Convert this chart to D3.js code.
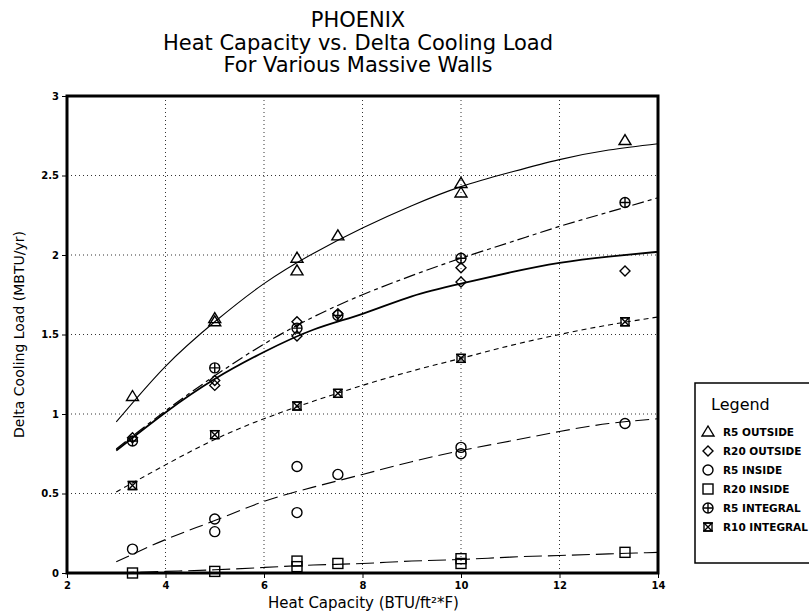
<!DOCTYPE html>
<html>
<head>
<meta charset="utf-8">
<script src="https://cdn.jsdelivr.net/npm/d3@7"></script>
<style>
  body { margin: 0; background: #fff; }
  text { font-family: "DejaVu Sans", sans-serif; fill: #000; }
  .tick text { font-size: 10px; font-weight: bold; }
  .legText { font-size: 10.5px; font-weight: bold; }
</style>
</head>
<body>
<div id="chart"></div>
<script>
// Chart values
var titleLines = ["PHOENIX", "Heat Capacity vs. Delta Cooling Load", "For Various Massive Walls"];
var xTicks = [2, 4, 6, 8, 10, 12, 14];
var yTicks = [0, 0.5, 1, 1.5, 2, 2.5, 3];
var seriesNames = ["R5 OUTSIDE", "R20 OUTSIDE", "R5 INSIDE", "R20 INSIDE", "R5 INTEGRAL", "R10 INTEGRAL"];

// measured points
var r5OutsideX = [3.33, 5, 5, 6.67, 6.67, 7.5, 10, 10, 13.33];
var r5OutsideY = [1.11, 1.60, 1.58, 1.98, 1.90, 2.12, 2.45, 2.39, 2.72];
var r20OutsideX = [3.33, 5, 5, 6.67, 6.67, 7.5, 10, 10, 13.33];
var r20OutsideY = [0.85, 1.21, 1.18, 1.58, 1.49, 1.63, 1.83, 1.92, 1.90];
var r5InsideX = [3.33, 5, 5, 6.67, 6.67, 7.5, 10, 10, 13.33];
var r5InsideY = [0.15, 0.34, 0.26, 0.67, 0.38, 0.62, 0.79, 0.75, 0.94];
var r20InsideX = [3.33, 5, 6.67, 6.67, 7.5, 10, 10, 13.33];
var r20InsideY = [0.0, 0.01, 0.075, 0.04, 0.06, 0.09, 0.06, 0.13];
var r5IntegralX = [3.33, 5, 6.67, 7.5, 10, 13.33];
var r5IntegralY = [0.83, 1.29, 1.54, 1.62, 1.98, 2.33];
var r10IntegralX = [3.33, 5, 6.67, 7.5, 10, 13.33];
var r10IntegralY = [0.55, 0.87, 1.05, 1.13, 1.35, 1.58];

// fitted curves
var fitX = [3, 4, 5, 6, 7, 8, 9, 10, 11, 12, 13, 14];
var fitR5Outside   = [0.95, 1.30, 1.58, 1.82, 2.01, 2.17, 2.31, 2.43, 2.52, 2.60, 2.66, 2.70];
var fitR20Outside  = [0.77, 1.01, 1.22, 1.39, 1.53, 1.63, 1.74, 1.82, 1.89, 1.95, 1.99, 2.02];
var fitR5Inside    = [0.07, 0.21, 0.33, 0.45, 0.54, 0.62, 0.70, 0.77, 0.83, 0.89, 0.94, 0.97];
var fitR20Inside   = [0.0, 0.01, 0.02, 0.035, 0.05, 0.06, 0.075, 0.085, 0.10, 0.11, 0.12, 0.13];
var fitR5Integral  = [0.78, 1.02, 1.24, 1.44, 1.61, 1.75, 1.87, 1.98, 2.08, 2.18, 2.27, 2.36];
var fitR10Integral = [0.51, 0.68, 0.84, 0.97, 1.08, 1.18, 1.27, 1.35, 1.43, 1.50, 1.56, 1.61];

var svgWidth = 809;
var svgHeight = 612;

var margin = { top: 96, right: 151, bottom: 39, left: 67 };
var width = svgWidth - margin.left - margin.right;
var height = svgHeight - margin.top - margin.bottom;

var svg = d3.select("#chart")
  .append("svg")
  .attr("width", svgWidth)
  .attr("height", svgHeight);

// title
svg.selectAll(".title")
  .data(titleLines)
  .enter()
  .append("text")
  .attr("class", "title")
  .attr("x", 358)
  .attr("y", (d, i) => 27 + i * 22.5)
  .attr("text-anchor", "middle")
  .style("font-size", "21px")
  .text(d => d);

var chartGroup = svg.append("g")
  .attr("transform", `translate(${margin.left}, ${margin.top})`);

var x = d3.scaleLinear().domain([2, 14]).range([0, width]);
var y = d3.scaleLinear().domain([0, 3]).range([height, 0]);

// dotted grid
chartGroup.append("g")
  .selectAll("line")
  .data(xTicks.slice(1, -1))
  .enter()
  .append("line")
  .attr("x1", d => x(d)).attr("x2", d => x(d))
  .attr("y1", 0).attr("y2", height)
  .attr("stroke", "#333").attr("stroke-width", 1).attr("stroke-dasharray", "1,3");

chartGroup.append("g")
  .selectAll("line")
  .data(yTicks.slice(1, -1))
  .enter()
  .append("line")
  .attr("x1", 0).attr("x2", width)
  .attr("y1", d => y(d)).attr("y2", d => y(d))
  .attr("stroke", "#333").attr("stroke-width", 1).attr("stroke-dasharray", "1,3");

// axes
var bottomAxis = d3.axisBottom(x).tickValues(xTicks).tickSize(5).tickPadding(4).tickFormat(d3.format("d"));
var leftAxis = d3.axisLeft(y).tickValues(yTicks).tickSize(5).tickPadding(3).tickFormat(d => String(d));

chartGroup.append("g")
  .attr("transform", `translate(0, ${height})`)
  .call(bottomAxis)
  .call(g => g.select(".domain").remove());

chartGroup.append("g")
  .call(leftAxis)
  .call(g => g.select(".domain").remove());

// frame
chartGroup.append("rect")
  .attr("x", 0).attr("y", 0)
  .attr("width", width).attr("height", height)
  .attr("fill", "none").attr("stroke", "#000").attr("stroke-width", 3);

// axis labels
chartGroup.append("text")
  .attr("transform", "rotate(-90)")
  .attr("x", -height / 2)
  .attr("y", -margin.left + 24)
  .attr("text-anchor", "middle")
  .style("font-size", "14px")
  .text("Delta Cooling Load (MBTU/yr)");

chartGroup.append("text")
  .attr("x", width / 2 + 1)
  .attr("y", height + 35)
  .attr("text-anchor", "middle")
  .style("font-size", "15px")
  .text("Heat Capacity (BTU/ft\u00B2*F)");

// markers
function marker(g, type) {
  var s = 5;
  if (type === "tri") {
    g.append("path").attr("d", `M0,${-s - 1}L${s + 1},${s - 1}L${-s - 1},${s - 1}Z`);
  } else if (type === "dia") {
    g.append("path").attr("d", `M0,${-s}L${s},0L0,${s}L${-s},0Z`);
  } else if (type === "circ") {
    g.append("circle").attr("r", s);
  } else if (type === "sq") {
    g.append("rect").attr("x", -s).attr("y", -s).attr("width", 2 * s).attr("height", 2 * s);
  } else if (type === "cross") {
    g.append("circle").attr("r", s);
    g.append("path").attr("d", `M${-s},0H${s}M0,${-s}V${s}`);
  } else if (type === "hour") {
    g.append("rect").attr("x", -s + 1).attr("y", -s + 1).attr("width", 2 * s - 2).attr("height", 2 * s - 2);
    g.append("path").attr("d", `M${-s + 1},${-s + 1}L${s - 1},${s - 1}M${s - 1},${-s + 1}L${-s + 1},${s - 1}M${-s},${-s + 1}H${s}M${-s},${s - 1}H${s}`);
  }
  g.selectAll("path,circle,rect").attr("fill", "none").attr("stroke", "#000").attr("stroke-width", 1.4);
}

var series = [
  { name: seriesNames[0], xs: r5OutsideX, ys: r5OutsideY, fit: fitR5Outside, sym: "tri", dash: null, w: 1.1 },
  { name: seriesNames[1], xs: r20OutsideX, ys: r20OutsideY, fit: fitR20Outside, sym: "dia", dash: null, w: 1.8 },
  { name: seriesNames[2], xs: r5InsideX, ys: r5InsideY, fit: fitR5Inside, sym: "circ", dash: "14,6", w: 1.1 },
  { name: seriesNames[3], xs: r20InsideX, ys: r20InsideY, fit: fitR20Inside, sym: "sq", dash: "18,6", w: 1.1 },
  { name: seriesNames[4], xs: r5IntegralX, ys: r5IntegralY, fit: fitR5Integral, sym: "cross", dash: "12,4,4,4", w: 1.2 },
  { name: seriesNames[5], xs: r10IntegralX, ys: r10IntegralY, fit: fitR10Integral, sym: "hour", dash: "5,4", w: 1.1 }
];

var line = d3.line()
  .x(d => x(d[0]))
  .y(d => y(d[1]))
  .curve(d3.curveNatural);

series.forEach(function(s) {
  chartGroup.append("path")
    .datum(fitX.map((v, i) => [v, s.fit[i]]))
    .attr("d", line)
    .attr("fill", "none")
    .attr("stroke", "#000")
    .attr("stroke-width", s.w)
    .attr("stroke-dasharray", s.dash);

  s.xs.forEach(function(xv, i) {
    var g = chartGroup.append("g")
      .attr("transform", `translate(${x(xv)}, ${y(s.ys[i])})`);
    marker(g, s.sym);
  });
});

// legend
var legend = svg.append("g").attr("transform", "translate(695, 383)");
legend.append("rect")
  .attr("x", 0).attr("y", 0)
  .attr("width", 130).attr("height", 180)
  .attr("fill", "none").attr("stroke", "#000").attr("stroke-width", 1.5);
legend.append("text")
  .attr("x", 16).attr("y", 27)
  .style("font-size", "16px")
  .text("Legend");

series.forEach(function(s, i) {
  var g = legend.append("g").attr("transform", `translate(13, ${49 + i * 19})`);
  marker(g, s.sym);
  g.append("text")
    .attr("class", "legText")
    .attr("x", 15).attr("y", 4)
    .text(s.name);
});
</script>
</body>
</html>
